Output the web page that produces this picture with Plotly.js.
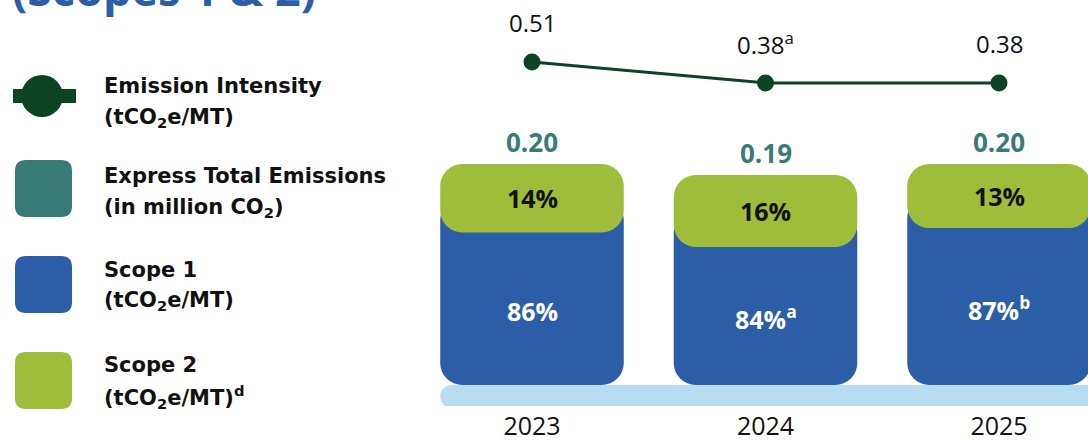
<!DOCTYPE html>
<html><head><meta charset="utf-8">
<script src="https://cdn.plot.ly/plotly-3.0.1.min.js"></script>
<style>html,body{margin:0;padding:0;background:#fff}#chart{width:1088px;height:441px}</style>
</head><body><div id="chart"></div>
<script>
// ---- data ----
const years = ['2023', '2024', '2025'];
const totalEmissions = [0.20, 0.19, 0.20];          // Express total emissions (million CO2)
const scope2Cap = [0.062, 0.065, 0.058];            // visible height of the Scope 2 cap on each bar
const scope1Share = ['86%', '84%', '87%'];
const scope1Notes = ['', 'a', 'b'];
const scope2Share = ['14%', '16%', '13%'];
const intensity = [0.51, 0.38, 0.38];               // tCO2e/MT
const intensityNotes = ['', 'a', ''];

// ---- style ----
const W = 1088, H = 441;
const BLUE = '#2c5ea8', GREEN = '#a0bc3b', TEAL = '#387b77', DARK = '#0c4423', STRIP = '#b8ddf2';
const FONT = '"Open Sans", Lato, sans-serif';
const LFONT = '"DejaVu Sans", "Open Sans", sans-serif';
const barW = 0.786, radius = 22;
const sup = n => n ? '<sup>' + n + '</sup>' : '';
const px = p => p / W, py = p => 1 - p / H;

const mid = totalEmissions.map((t, i) => t - scope2Cap[i] / 2);
const capBase = totalEmissions.map((t, i) => t - scope2Cap[i]);

const traces = [
  { type: 'bar', x: years, base: years.map(() => 0), y: mid, width: barW,
    marker: { color: BLUE, cornerradius: radius, line: { width: 0 } }, hoverinfo: 'skip', showlegend: false },
  { type: 'bar', x: years, base: capBase, y: scope2Cap, width: barW,
    marker: { color: GREEN, cornerradius: radius, line: { width: 0 } }, hoverinfo: 'skip', showlegend: false },
  { type: 'scatter', mode: 'lines+markers', x: years, y: intensity, yaxis: 'y2',
    line: { color: DARK, width: 3 }, marker: { color: DARK, size: 17 }, hoverinfo: 'skip', showlegend: false, cliponaxis: false }
];

const ann = [];
years.forEach((yr, i) => {
  ann.push({ x: i, y: totalEmissions[i], xref: 'x', yref: 'y', yshift: 22, showarrow: false,
    text: '<b>' + totalEmissions[i].toFixed(2) + '</b>', font: { family: FONT, size: 26, color: TEAL } });
  ann.push({ x: i, y: mid[i], xref: 'x', yref: 'y', showarrow: false,
    text: '<b>' + scope2Share[i] + '</b>', font: { family: FONT, size: 25, color: '#111' } });
  ann.push({ x: i, y: capBase[i] / 2, xref: 'x', yref: 'y', yshift: -2, showarrow: false,
    text: '<b>' + scope1Share[i] + sup(scope1Notes[i]) + '</b>', font: { family: FONT, size: 25, color: '#fff' } });
  ann.push({ x: i, y: intensity[i], xref: 'x', yref: 'y2', yshift: 40, showarrow: false,
    text: intensity[i].toFixed(2) + sup(intensityNotes[i]), font: { family: FONT, size: 24, color: '#111' } });
});

// title (cropped at top)
ann.push({ x: px(10), y: py(21), xref: 'paper', yref: 'paper', xanchor: 'left', yanchor: 'bottom', showarrow: false,
  text: '<b>(Scopes 1 &amp; 2)</b>', font: { family: FONT, size: 45, color: BLUE } });

// custom legend
const legendLines = [
  ['Emission Intensity', 86], ['(tCO<sub>2</sub>e/MT)', 118],
  ['Express Total Emissions', 176], ['(in million CO<sub>2</sub>)', 208],
  ['Scope 1', 270], ['(tCO<sub>2</sub>e/MT)', 301],
  ['Scope 2', 365], ['(tCO<sub>2</sub>e/MT)<sup>d</sup>', 397]
];
legendLines.forEach(([t, y]) => ann.push({ x: px(102), y: py(y), xref: 'paper', yref: 'paper', xanchor: 'left', yanchor: 'middle',
  showarrow: false, text: '<b>' + t + '</b>', font: { family: LFONT, size: 21, color: '#111' } }));

function roundRect(x, y, w, h, r) {
  const P = (a, b) => px(a).toFixed(5) + ',' + py(b).toFixed(5);
  return 'M' + P(x + r, y) + ' L' + P(x + w - r, y) + ' Q' + P(x + w, y) + ' ' + P(x + w, y + r) +
    ' L' + P(x + w, y + h - r) + ' Q' + P(x + w, y + h) + ' ' + P(x + w - r, y + h) +
    ' L' + P(x + r, y + h) + ' Q' + P(x, y + h) + ' ' + P(x, y + h - r) +
    ' L' + P(x, y + r) + ' Q' + P(x, y) + ' ' + P(x + r, y) + ' Z';
}

const shapes = [
  // legend swatches
  { type: 'rect', xref: 'paper', yref: 'paper', x0: px(13), x1: px(76), y0: py(89), y1: py(103), fillcolor: DARK, line: { width: 0 } },
  { type: 'circle', xref: 'paper', yref: 'paper', x0: px(21), x1: px(63), y0: py(75), y1: py(117), fillcolor: DARK, line: { width: 0 } },
  { type: 'path', xref: 'paper', yref: 'paper', path: roundRect(15, 160, 57, 57, 11), fillcolor: '#387a76', line: { width: 0 } },
  { type: 'path', xref: 'paper', yref: 'paper', path: roundRect(15, 256, 57, 57, 11), fillcolor: BLUE, line: { width: 0 } },
  { type: 'path', xref: 'paper', yref: 'paper', path: roundRect(15, 352, 57, 57, 11), fillcolor: GREEN, line: { width: 0 } },
  // base strip under the bars
  { type: 'rect', layer: 'below', xref: 'x', xsizemode: 'pixel', xanchor: -barW / 2, x0: 11, x1: 1200,
    yref: 'y', ysizemode: 'pixel', yanchor: 0, y0: 0, y1: -23, fillcolor: STRIP, line: { width: 0 } },
  { type: 'circle', layer: 'below', xref: 'x', xsizemode: 'pixel', xanchor: -barW / 2, x0: 0, x1: 23,
    yref: 'y', ysizemode: 'pixel', yanchor: 0, y0: 0, y1: -23, fillcolor: STRIP, line: { width: 0 } }
];

const yBottom = 406, yZero = 385, pxPerUnit = 1105;
const lineTop = 62, linePx = 161.5;
const layout = {
  width: W, height: H, margin: { l: 0, r: 0, t: 0, b: 0 },
  paper_bgcolor: '#fff', plot_bgcolor: 'rgba(0,0,0,0)',
  barmode: 'overlay', showlegend: false,
  xaxis: { type: 'category', domain: [0, 1], range: [-532 / 233.5, (W - 532) / 233.5], showgrid: false, zeroline: false,
    showline: false, ticks: '', tickfont: { family: FONT, size: 25, color: '#111' }, ticklabelstandoff: 3 },
  yaxis: { domain: [(H - yBottom) / H, 1], range: [-(yBottom - yZero) / pxPerUnit, yZero / pxPerUnit],
    showgrid: false, zeroline: false, showticklabels: false, showline: false },
  yaxis2: { overlaying: 'y', domain: [(H - yBottom) / H, 1],
    range: [intensity[0] - (yBottom - lineTop) / linePx, intensity[0] + lineTop / linePx],
    showgrid: false, zeroline: false, showticklabels: false, showline: false },
  annotations: ann, shapes: shapes
};
Plotly.newPlot('chart', traces, layout, { staticPlot: true, displayModeBar: false });
</script></body></html>
